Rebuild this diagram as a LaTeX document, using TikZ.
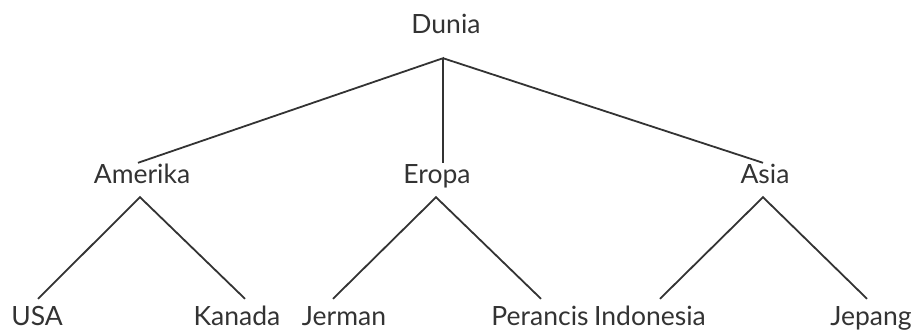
\documentclass[tikz,border=0pt]{standalone}
\usepackage{fontspec}
\setmainfont{Lato}
\definecolor{ink}{HTML}{333333}
\begin{document}
\begin{tikzpicture}[x=1pt,y=-1pt,
  lbl/.style={text=ink, font=\fontsize{26.5}{30}\selectfont, anchor=base,
    inner xsep=0pt, text height=18pt},
  top/.style={lbl, text depth=22pt, inner ysep=2pt},
  mid/.style={lbl, text depth=12pt, inner ysep=2pt},
  leaf/.style={lbl, text depth=0pt, inner ysep=8pt},
  edge/.style={draw=ink, line width=1.8pt}]
  \useasboundingbox (0,0) rectangle (917,329);

  % root
  \node[top] (dunia) at (446,34) {Dunia};

  % continents
  \node[mid] (amerika) at (142,183) {Amerika};
  \node[mid] (eropa)   at (437,183) {Eropa};
  \node[mid] (asia)    at (765,183) {Asia};

  % countries
  \node[leaf] (usa)       at (37,325)  {USA};
  \node[leaf] (kanada)    at (237,325) {Kanada};
  \node[leaf] (jerman)    at (344,325) {Jerman};
  \node[leaf] (perancis)  at (540,325) {Perancis};
  \node[leaf] (indonesia) at (650,325) {Indonesia};
  \node[leaf] (jepang)    at (871,325) {Jepang};

  % branches
  \draw[edge] ([xshift=-4pt]amerika.north) -- ([xshift=-3pt]dunia.south)
              -- ([xshift=6pt]eropa.north);
  \draw[edge] ([xshift=-3pt]dunia.south) -- ([xshift=-2pt]asia.north);

  \draw[edge] ([xshift=1pt]usa.north) -- ([xshift=-2pt]amerika.south)
              -- ([xshift=8pt]kanada.north);
  \draw[edge] ([xshift=-11pt]jerman.north) -- ([xshift=-1pt]eropa.south)
              -- ([xshift=1pt]perancis.north);
  \draw[edge] ([xshift=10pt]indonesia.north) -- ([xshift=-2pt]asia.south)
              -- ([xshift=-4pt]jepang.north);
\end{tikzpicture}
\end{document}
